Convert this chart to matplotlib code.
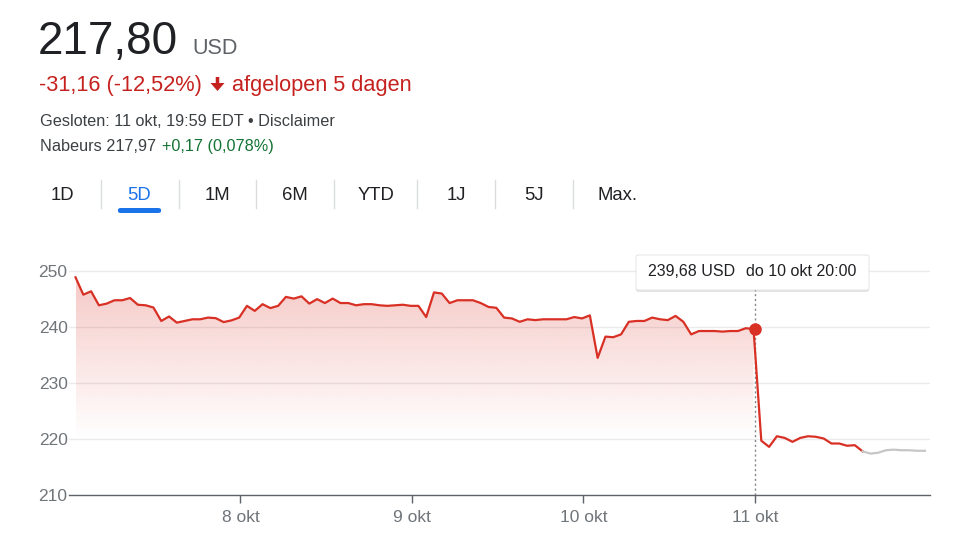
import numpy as np
import matplotlib.pyplot as plt
from matplotlib.patches import FancyBboxPatch, FancyArrow
from matplotlib.transforms import IdentityTransform

plt.rcParams['font.family'] = ['Liberation Sans', 'DejaVu Sans']

# prices, one sample every 1/22 of a trading day
day_labels = ['8 okt', '9 okt', '10 okt', '11 okt']
day_ticks = [8, 9, 10, 11]
prices_7okt = [248.9, 245.8, 246.4, 243.9, 244.2, 244.8, 244.8, 245.2, 244.0, 243.9, 243.5,
               241.1, 241.9, 240.8, 241.1, 241.4, 241.4, 241.7, 241.6, 240.9, 241.2, 241.7]
prices_8okt = [243.8, 242.9, 244.1, 243.4, 243.8, 245.4, 245.1, 245.5, 244.2, 245.0, 244.3,
               245.1, 244.3, 244.3, 243.9, 244.1, 244.1, 243.9, 243.8, 243.9, 244.0, 243.8, 243.8]
prices_9_10okt = [241.8, 246.2, 246.0, 244.3, 244.8, 244.8, 244.8, 244.3, 243.6, 243.45, 241.7,
                  241.55, 240.95, 241.4, 241.25, 241.4, 241.4, 241.4, 241.4, 241.8, 241.55, 242.1,
                  234.5, 238.3, 238.2, 238.7, 240.95, 241.1, 241.1, 241.7, 241.4, 241.25, 242.0,
                  240.95, 238.7, 239.3, 239.3, 239.3, 239.2, 239.3, 239.3, 239.8, 239.68]
prices_11okt = [219.7, 218.6, 220.5, 220.2, 219.5, 220.2, 220.5, 220.4, 220.1, 219.2, 219.2,
                218.8, 218.9, 217.8]
prices_after = [217.4, 217.55, 218.0, 218.1, 218.0, 218.0, 217.9, 217.9]
hover_price = 239.68
hover_time = 11.0

red = prices_7okt + prices_8okt + prices_9_10okt + prices_11okt
t_start = 7.038
step = 1 / 22
t_red = t_start + np.arange(len(red)) * step
t_gray = t_start + np.arange(len(red) - 1, len(red) + len(prices_after)) * step
gray = [red[-1]] + prices_after

W, H = 971, 540
fig = plt.figure(figsize=(W / 100, H / 100), dpi=100)


def fx(px):
    return px / W


def fy(py):
    return 1 - py / H


# header texts
dark = '#202124'
grey = '#3c4043'
fig.text(fx(38), fy(54), '217,80', fontsize=33, color=dark, va='baseline')
fig.text(fx(192), fy(54), 'USD', fontsize=15.5, color='#5f6368', va='baseline')
fig.text(fx(39), fy(91), '-31,16 (-12,52%)', fontsize=15.7, color='#c5221f', va='baseline')
fig.add_artist(FancyArrow(217.5, H - 77, 0, -14, width=3.5, head_width=14, head_length=8,
                          length_includes_head=True, fc='#c5221f', ec='none',
                          transform=IdentityTransform()))
fig.text(fx(232), fy(91), 'afgelopen 5 dagen', fontsize=15.7, color='#c5221f', va='baseline')
fig.text(fx(40), fy(126), 'Gesloten: 11 okt, 19:59 EDT • Disclaimer', fontsize=11.7, color=grey, va='baseline')
fig.text(fx(40), fy(151), 'Nabeurs 217,97', fontsize=11.7, color=grey, va='baseline')
fig.text(fx(162), fy(151), '+0,17 (0,078%)', fontsize=11.7, color='#137333', va='baseline')

# range tabs
tabs = ['1D', '5D', '1M', '6M', 'YTD', '1J', '5J', 'Max.']
tab_x = [62, 139.5, 217.5, 295, 376, 456.5, 534, 617]
for lab, px in zip(tabs, tab_x):
    fig.text(fx(px), fy(200), lab, fontsize=13.3, ha='center', va='baseline',
             color='#1a73e8' if lab == '5D' else dark)
for px in [101, 179, 256, 334, 417, 495, 573]:
    fig.add_artist(plt.Line2D([fx(px), fx(px)], [fy(180), fy(208)], color='#dadce0', lw=1))
fig.add_artist(FancyBboxPatch((fx(118), fy(213)), fx(161) - fx(118), 5 / H,
                              boxstyle='round,pad=0,rounding_size=0.003',
                              fc='#1a73e8', ec='none'))

# chart
ax = fig.add_axes([fx(69), fy(495), fx(930) - fx(69), (495 - 265) / H])
ax.plot(t_red, red, color='#d93025', lw=1.6, zorder=3, solid_joinstyle='round')
ax.plot(t_gray, gray, color='#c6c6c6', lw=1.6, zorder=3)

# gradient fill up to the hovered point
mask = t_red <= hover_time + 1e-9
poly = ax.fill_between(t_red[mask], np.array(red)[mask], 210, fc='none', ec='none')
rgba = np.zeros((256, 2, 4))
rgba[..., 0] = 217 / 255
rgba[..., 1] = 48 / 255
rgba[..., 2] = 37 / 255
rgba[..., 3] = np.linspace(0.28, 0.0, 256)[:, None]
im = ax.imshow(rgba, extent=[t_start, hover_time, 220, 251], aspect='auto',
               origin='upper', zorder=1, interpolation='bilinear')
im.set_clip_path(poly.get_paths()[0], ax.transData)

ax.axvline(hover_time, color='#80868b', lw=1, ls=(0, (1.5, 2)), zorder=2)
ax.plot([hover_time], [hover_price], 'o', color='#d93025', ms=8, zorder=4)

ax.set_xlim(7.0, 12.022)
ax.set_ylim(210, 251.1)
ax.set_yticks([210, 220, 230, 240, 250])
ax.set_yticklabels(['210', '220', '230', '240', '250'])
ax.set_xticks(day_ticks)
ax.set_xticklabels(day_labels)
ax.grid(axis='y', color='#ebebeb', lw=1)
ax.set_axisbelow(True)
for s in ['top', 'right', 'left']:
    ax.spines[s].set_visible(False)
ax.spines['bottom'].set_color('#5f6368')
ax.spines['bottom'].set_linewidth(1)
ax.tick_params(axis='y', length=0, pad=1, labelsize=12.5, labelcolor='#70757a')
ax.tick_params(axis='x', length=6, width=1, color='#5f6368', pad=5,
               labelsize=12.5, labelcolor='#70757a')

# tooltip
fig.add_artist(FancyBboxPatch((fx(636), fy(292)), fx(869) - fx(636), 36 / H,
                              boxstyle='round,pad=0,rounding_size=0.003',
                              fc='#000000', ec='none', alpha=0.10))
fig.add_artist(FancyBboxPatch((fx(636), fy(290)), fx(869) - fx(636), 35 / H,
                              boxstyle='round,pad=0,rounding_size=0.003',
                              fc='white', ec='#e0e0e0', lw=0.6))
fig.text(fx(648), fy(276), '239,68 USD', fontsize=11.5, color=dark, va='baseline')
fig.text(fx(746), fy(276), 'do 10 okt 20:00', fontsize=11.5, color=dark, va='baseline')

fig.savefig('out.png', dpi=100)
